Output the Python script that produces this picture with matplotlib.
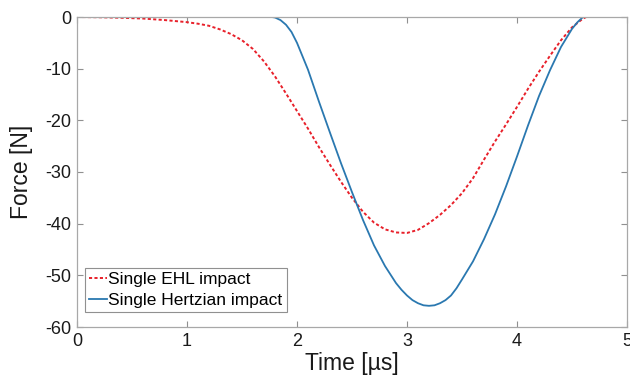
import matplotlib
matplotlib.use("Agg")
import matplotlib.pyplot as plt

# EHL impact (red dotted)
ehl_t = [0.0, 0.2, 0.4, 0.6, 0.8, 1.0, 1.1, 1.2, 1.3, 1.4, 1.5, 1.6, 1.7, 1.8, 1.9,
         2.0, 2.1, 2.2, 2.3, 2.4, 2.5, 2.6, 2.7, 2.8, 2.9, 3.0, 3.1, 3.2, 3.3, 3.4,
         3.5, 3.6, 3.7, 3.8, 3.9, 4.0, 4.1, 4.2, 4.3, 4.4, 4.5, 4.6, 4.63]
ehl_f = [0.0, -0.05, -0.15, -0.3, -0.6, -1.0, -1.3, -1.7, -2.4, -3.3, -4.5, -6.2, -8.6, -11.5, -14.8,
         -18.2, -21.6, -25.2, -28.6, -31.9, -35.0, -37.7, -39.8, -41.1, -41.7, -41.8, -41.2, -39.9, -38.3, -36.4,
         -34.1, -31.2, -27.6, -24.1, -20.8, -17.4, -13.9, -10.6, -7.5, -4.5, -2.0, -0.3, 0.0]

# Hertzian impact (blue solid)
hz_t = [0.0, 1.0, 1.77, 1.8, 1.85, 1.9, 1.95, 2.0, 2.1, 2.2, 2.3, 2.4, 2.5, 2.6, 2.7, 2.8, 2.9,
        2.95, 3.0, 3.05, 3.1, 3.15, 3.2, 3.25, 3.3, 3.35, 3.4, 3.45, 3.5, 3.6, 3.7, 3.8, 3.9,
        4.0, 4.1, 4.2, 4.3, 4.4, 4.5, 4.55, 4.6]
hz_f = [0.0, 0.0, 0.0, -0.1, -0.6, -1.5, -2.9, -5.0, -10.2, -16.4, -22.4, -28.3, -33.9, -39.3, -44.2, -48.2, -51.5,
        -52.8, -53.9, -54.8, -55.4, -55.8, -55.9, -55.8, -55.4, -54.8, -53.9, -52.5, -50.8, -47.3, -43.0, -38.2, -32.8,
        -27.0, -21.0, -15.3, -10.3, -5.8, -2.3, -1.0, 0.0]

x_ticks = [0, 1, 2, 3, 4, 5]
y_ticks = [-60, -50, -40, -30, -20, -10, 0]

plt.rcParams['font.family'] = ['Liberation Sans', 'DejaVu Sans']
plt.rcParams['axes.unicode_minus'] = False

fig = plt.figure(figsize=(6.3, 3.84), dpi=100)
ax = fig.add_axes([77/630, 57/384, 550/630, 310/384])

ax.plot(ehl_t, ehl_f, linestyle=(0, (1.6, 1.2)), color='#e8202a', linewidth=1.4,
        label='Single EHL impact')
ax.plot(hz_t, hz_f, linestyle='-', color='#2a78b0', linewidth=1.3,
        label='Single Hertzian impact')

ax.set_xlim(0, 5)
ax.set_ylim(-60, 0)
ax.set_xticks(x_ticks)
ax.set_yticks(y_ticks)
ax.tick_params(direction='in', length=4, width=0.8, color='#909090',
               labelsize=13, labelcolor='#1a1a1a', top=True, right=True, pad=4)
for s in ax.spines.values():
    s.set_color('#a8a8a8')
    s.set_linewidth(0.9)

ax.set_xlabel('Time [µs]', fontsize=16.5, color='#1a1a1a', labelpad=2)
ax.set_ylabel('Force [N]', fontsize=16.5, color='#1a1a1a', labelpad=9)

leg = ax.legend(loc='lower left', bbox_to_anchor=(8/550, 15/310), borderaxespad=0,
                fontsize=12.5, handlelength=1.0, handletextpad=0.1, labelspacing=0.3,
                borderpad=0.25, fancybox=False, framealpha=1, edgecolor='#909090')
leg.get_frame().set_linewidth(0.8)

fig.savefig('out.png', dpi=100)
